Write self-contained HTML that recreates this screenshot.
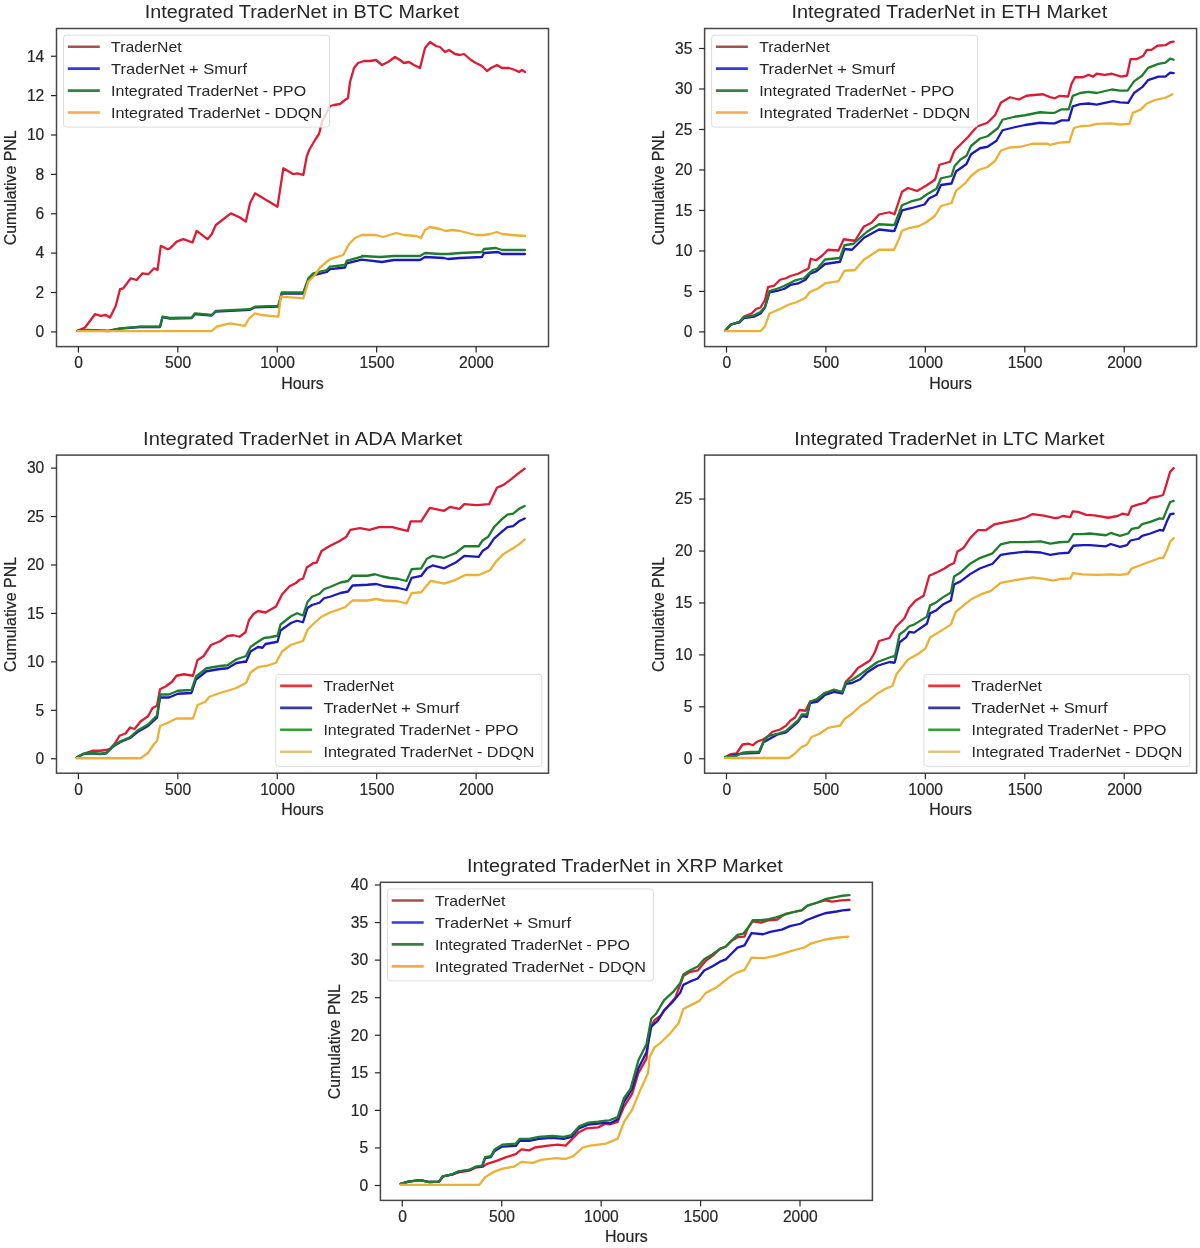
<!DOCTYPE html>
<html><head><meta charset="utf-8"><style>
html,body{margin:0;padding:0;background:#fff;}
svg{display:block;font-family:"Liberation Sans", sans-serif;filter:blur(0.5px);}
text{stroke:#262626;stroke-width:0.2px;}
text.ns{stroke:none;}
</style></head><body>
<svg width="1200" height="1248" viewBox="0 0 1200 1248">
<rect width="1200" height="1248" fill="#fff"/>
<g><path d="M77.5 330.8 L85 327.5 L95 314.2 L100.8 315.8 L105.8 315 L110 317.5 L115.8 305.8 L120 289.2 L123.3 288.3 L130.8 278.3 L136.7 280 L142.5 273.3 L148.3 274.2 L154.2 268.3 L157.5 270 L160.8 245.8 L167.5 249.2 L170 248.33 L176.67 241.67 L183.33 239.17 L192.5 242.5 L196.67 230.83 L207.5 239.17 L211.67 234.17 L215.83 225 L230.83 213.33 L240 217.5 L245.83 221.67 L250 203.33 L255 193.33 L265 199.17 L277.5 206.67 L283.33 168.33 L293.33 174.17 L297.5 173.33 L303.33 175 L306.67 156.67 L309.17 150 L315 140 L319 134 L322 122 L330 106 L334 105 L340 104 L345 100 L348 98 L350 82 L354 68 L358 63 L364 61 L370 61 L376 60 L382 65 L388 62 L395 57 L400 60 L404 63 L409 62 L414 65 L420 68 L425 48 L430 42 L436 46 L440 47 L445 52 L449 50 L455 54 L460 55 L464 54 L471 60 L476 63 L482 66 L487 71 L491 68 L497 65 L502 68 L509 68 L515 70 L519 72 L522 70 L525 72" fill="none" stroke="#dc1c34" stroke-width="2.3" stroke-linejoin="round" stroke-linecap="round"/>
<path d="M77.5 330.8 L86.7 330.2 L108.3 331 L120 328.6 L140 327 L160 327 L162.5 317.2 L170 318.5 L191.67 318 L195 314 L211.67 315.5 L215.83 311.5 L250 309.83 L255 307.33 L278.33 306.5 L281.67 293.67 L303.33 293.67 L308.33 280 L313.33 275.33 L326.67 272 L330 269.17 L345 267.5 L346.67 263.33 L361.67 259.67 L382 262 L394 260 L420 260 L425 257 L444 258 L448 259 L460 258 L482 257 L484 253 L498 252 L502 254 L525 254" fill="none" stroke="#1c18c0" stroke-width="2.3" stroke-linejoin="round" stroke-linecap="round"/>
<path d="M77.5 330.8 L86.7 330 L108.3 330.8 L120 328.3 L140 326.7 L160 326.7 L162.5 316.7 L170 318 L191.67 317.5 L195 313.33 L211.67 315 L215.83 310.83 L250 309.17 L255 306.67 L278.33 305.83 L281.67 292.5 L303.33 292.5 L308.33 278.33 L313.33 273.33 L326.67 270 L330 266.67 L345 265 L346.67 260.83 L361.67 256.67 L362 256 L380 257 L394 256 L420 256 L425 253 L440 254 L448 254 L460 253 L482 252 L484 249 L496 248 L502 250 L525 250" fill="none" stroke="#1e7e2c" stroke-width="2.3" stroke-linejoin="round" stroke-linecap="round"/>
<path d="M77.5 331.2 L211.7 331.2 L216.7 326.7 L230 323.3 L245 325.8 L249.2 318.3 L255 313.3 L261.7 315 L270 315.8 L278.33 316.67 L280.83 296.67 L303.33 298.33 L308.33 281.67 L315 275 L320 267.5 L330 259.17 L343.33 255 L349 244 L355 238 L362 235 L376 235 L383 237 L396 233 L404 235 L416 236 L421 238 L425 230 L430 227 L440 229 L446 231 L452 230 L460 231 L468 233 L476 235 L484 235 L490 234 L497 232 L502 234 L512 235 L525 236" fill="none" stroke="#ecb034" stroke-width="2.3" stroke-linejoin="round" stroke-linecap="round"/>
<rect x="56.5" y="28.5" width="492" height="318.1" fill="none" stroke="#474747" stroke-width="1.5"/>
<line x1="51" y1="331.9" x2="56.5" y2="331.9" stroke="#262626" stroke-width="1.2"/>
<text x="44.3" y="337.2" text-anchor="end" font-size="15.6" fill="#262626">0</text>
<line x1="51" y1="292.52" x2="56.5" y2="292.52" stroke="#262626" stroke-width="1.2"/>
<text x="44.3" y="297.82" text-anchor="end" font-size="15.6" fill="#262626">2</text>
<line x1="51" y1="253.14" x2="56.5" y2="253.14" stroke="#262626" stroke-width="1.2"/>
<text x="44.3" y="258.44" text-anchor="end" font-size="15.6" fill="#262626">4</text>
<line x1="51" y1="213.76" x2="56.5" y2="213.76" stroke="#262626" stroke-width="1.2"/>
<text x="44.3" y="219.06" text-anchor="end" font-size="15.6" fill="#262626">6</text>
<line x1="51" y1="174.38" x2="56.5" y2="174.38" stroke="#262626" stroke-width="1.2"/>
<text x="44.3" y="179.68" text-anchor="end" font-size="15.6" fill="#262626">8</text>
<line x1="51" y1="135" x2="56.5" y2="135" stroke="#262626" stroke-width="1.2"/>
<text x="44.3" y="140.3" text-anchor="end" font-size="15.6" fill="#262626">10</text>
<line x1="51" y1="95.62" x2="56.5" y2="95.62" stroke="#262626" stroke-width="1.2"/>
<text x="44.3" y="100.92" text-anchor="end" font-size="15.6" fill="#262626">12</text>
<line x1="51" y1="56.24" x2="56.5" y2="56.24" stroke="#262626" stroke-width="1.2"/>
<text x="44.3" y="61.54" text-anchor="end" font-size="15.6" fill="#262626">14</text>
<line x1="78.4" y1="346.6" x2="78.4" y2="352.6" stroke="#262626" stroke-width="1.2"/>
<text x="78.7" y="368.2" text-anchor="middle" font-size="15.6" fill="#262626">0</text>
<line x1="177.82" y1="346.6" x2="177.82" y2="352.6" stroke="#262626" stroke-width="1.2"/>
<text x="178.12" y="368.2" text-anchor="middle" font-size="15.6" fill="#262626">500</text>
<line x1="277.25" y1="346.6" x2="277.25" y2="352.6" stroke="#262626" stroke-width="1.2"/>
<text x="277.55" y="368.2" text-anchor="middle" font-size="15.6" fill="#262626">1000</text>
<line x1="376.67" y1="346.6" x2="376.67" y2="352.6" stroke="#262626" stroke-width="1.2"/>
<text x="376.97" y="368.2" text-anchor="middle" font-size="15.6" fill="#262626">1500</text>
<line x1="476.1" y1="346.6" x2="476.1" y2="352.6" stroke="#262626" stroke-width="1.2"/>
<text x="476.4" y="368.2" text-anchor="middle" font-size="15.6" fill="#262626">2000</text>
<text x="302.5" y="388.5" text-anchor="middle" font-size="16.2" fill="#262626" textLength="42.6" lengthAdjust="spacingAndGlyphs">Hours</text>
<text transform="translate(15.9 187.85) rotate(-90)" text-anchor="middle" font-size="15.6" fill="#262626" textLength="115" lengthAdjust="spacingAndGlyphs">Cumulative PNL</text>
<text class="ns" x="144.7" y="18.3" font-size="18" fill="#262626" textLength="314.2" lengthAdjust="spacingAndGlyphs">Integrated TraderNet in BTC Market</text>
<rect x="63.5" y="35.1" width="266" height="92" rx="3" fill="#fff" fill-opacity="0.8" stroke="#dcdcdc" stroke-width="1"/>
<line x1="67.8" y1="46.7" x2="99.8" y2="46.7" stroke="#a4504c" stroke-width="2.6"/>
<text x="111.1" y="52.1" font-size="15" class="ns" fill="#262626" textLength="70.5" lengthAdjust="spacingAndGlyphs">TraderNet</text>
<line x1="67.8" y1="68.65" x2="99.8" y2="68.65" stroke="#3838e0" stroke-width="2.6"/>
<text x="111.1" y="74.05" font-size="15" class="ns" fill="#262626" textLength="136" lengthAdjust="spacingAndGlyphs">TraderNet + Smurf</text>
<line x1="67.8" y1="90.6" x2="99.8" y2="90.6" stroke="#3d7d45" stroke-width="2.6"/>
<text x="111.1" y="96" font-size="15" class="ns" fill="#262626" textLength="195" lengthAdjust="spacingAndGlyphs">Integrated TraderNet - PPO</text>
<line x1="67.8" y1="112.55" x2="99.8" y2="112.55" stroke="#f4a850" stroke-width="2.6"/>
<text x="111.1" y="117.95" font-size="15" class="ns" fill="#262626" textLength="211" lengthAdjust="spacingAndGlyphs">Integrated TraderNet - DDQN</text></g>
<g><path d="M725.25 330.74 L730.5 324.74 L739.5 321.74 L744 316.49 L751.5 313.49 L756 308.99 L760.5 307.49 L765 299.99 L768 287.24 L774 285.74 L780 279.75 L786 278.25 L790.5 276 L798 273.75 L804 270.75 L808.5 268.5 L810.75 258.75 L816 260.25 L821.99 255.75 L827.99 249.75 L838.49 250.5 L843.74 239.25 L848.99 240 L854.99 240.75 L860.99 231 L863.99 226.5 L871.49 222.75 L878.99 214.5 L889.49 212.25 L894.5 214.24 L902 191.74 L908 187.99 L917 190.99 L926 185.74 L935 179.75 L939.5 164.75 L950 161.75 L954.5 150.5 L960.5 144.5 L968 137 L977 126.5 L987.5 122.75 L994.99 115.25 L1000.99 102.5 L1009.99 97.25 L1018.99 99.5 L1026.49 95.75 L1033.99 95 L1042.99 94.25 L1050 97.09 L1054.67 98.25 L1059.33 95.92 L1068.08 96.5 L1071.58 83.67 L1075.08 77.25 L1082.67 77.25 L1088.5 74.92 L1093.17 76.67 L1096.67 73.75 L1104.84 74.92 L1111.84 73.75 L1121.17 76.67 L1127 75.5 L1130.5 59.17 L1136.34 59.17 L1143.34 55.67 L1146.84 49.83 L1151.51 49.83 L1157.34 45.75 L1165.51 45.17 L1170.17 42.25 L1173.67 41.67" fill="none" stroke="#dc1c34" stroke-width="2.3" stroke-linejoin="round" stroke-linecap="round"/>
<path d="M725.25 330.74 L730.5 324.74 L739.5 322.49 L744 317.99 L754.5 316.49 L760.5 313.49 L765 307.49 L769.5 292.49 L777 290.99 L784.5 288.74 L790.5 284.99 L798 283.49 L805.5 279.75 L810 273.75 L816 271.5 L824.99 264 L839.99 261.75 L844.49 249 L851.99 249.75 L857.99 243.75 L863.99 237.75 L878.99 229.5 L892.49 231 L894.5 230.74 L902 210.49 L911 208.24 L924.5 204.49 L929 198.49 L936.5 194.74 L941 184.99 L951.5 183.49 L956 171.5 L966.5 164 L971 154.25 L980 148.25 L987.5 146.75 L996.49 140.75 L1002.49 130.25 L1014.49 127.25 L1024.99 125 L1039.99 122.75 L1050 123.34 L1054.67 123.34 L1061.67 120.42 L1068.67 120.42 L1072.75 106.42 L1080.33 104.09 L1088.5 103.5 L1096.67 104.67 L1113 101.17 L1120 102.34 L1128.17 102.92 L1134 93 L1142.17 87.17 L1148 80.17 L1158.51 76.67 L1165.51 76.67 L1170.17 72.59 L1173.67 73.17" fill="none" stroke="#1c18c0" stroke-width="2.3" stroke-linejoin="round" stroke-linecap="round"/>
<path d="M725.25 330.74 L730.5 324.74 L739.5 321.74 L744 317.24 L753 315.74 L760.5 311.99 L765 306.74 L769.5 290.99 L777 288.74 L783 286.49 L789 283.49 L795 280.49 L804 278.25 L808.5 273.75 L813 270 L817.5 268.5 L824.99 259.5 L839.99 258 L844.49 245.25 L853.49 243.75 L860.99 237 L866.99 231.75 L878.99 224.25 L892.49 225 L894.5 224.74 L902 205.24 L911 201.49 L920 199.24 L927.5 193.99 L936.5 188.74 L941 178.25 L951.5 176 L954.5 166.25 L960.5 159.5 L966.5 155.75 L971 146 L980 138.5 L987.5 136.25 L997.99 128 L1002.49 119.75 L1014.49 116.75 L1024.99 115.25 L1039.99 112.25 L1050 112.84 L1054.67 112.84 L1061.67 109.34 L1068.67 109.34 L1072.75 95.92 L1080.33 93 L1088.5 91.84 L1096.67 93 L1111.84 89.5 L1120 90.67 L1127.59 90.67 L1134 81.34 L1142.17 75.5 L1148 67.92 L1158.51 63.84 L1165.51 62.67 L1170.17 58.58 L1173.67 59.75" fill="none" stroke="#1e7e2c" stroke-width="2.3" stroke-linejoin="round" stroke-linecap="round"/>
<path d="M725.25 331.19 L760.5 331.19 L765 326.24 L769.5 313.49 L780 308.99 L789 304.49 L796.5 302.24 L805.5 297.74 L810 291.74 L817.5 288.74 L824.99 283.49 L838.49 281.24 L844.49 270.75 L854.99 270 L863.99 259.5 L869.99 255.75 L878.99 249.75 L893.99 249.75 L899 238.99 L902 230.74 L908 228.49 L918.5 226.24 L926 222.49 L935 215.74 L941 205.99 L951.5 202.99 L956 190.99 L965 183.49 L971 176 L978.5 170 L987.5 167 L994.99 161 L1000.99 150.5 L1009.99 147.5 L1020.49 146.75 L1032.49 143.75 L1047.49 143.75 L1050 144.92 L1059.33 142.59 L1069.25 142.01 L1073.92 128 L1080.33 126.25 L1089.67 125.67 L1096.67 123.92 L1111.84 123.34 L1120 124.5 L1129.34 123.92 L1132.84 112.84 L1141 109.34 L1146.84 103.5 L1155.01 100 L1165.51 97.67 L1172.51 94.17" fill="none" stroke="#ecb034" stroke-width="2.3" stroke-linejoin="round" stroke-linecap="round"/>
<rect x="704.6" y="28.5" width="492" height="318.1" fill="none" stroke="#474747" stroke-width="1.5"/>
<line x1="699.1" y1="331.9" x2="704.6" y2="331.9" stroke="#262626" stroke-width="1.2"/>
<text x="692.4" y="337.2" text-anchor="end" font-size="15.6" fill="#262626">0</text>
<line x1="699.1" y1="291.41" x2="704.6" y2="291.41" stroke="#262626" stroke-width="1.2"/>
<text x="692.4" y="296.71" text-anchor="end" font-size="15.6" fill="#262626">5</text>
<line x1="699.1" y1="250.93" x2="704.6" y2="250.93" stroke="#262626" stroke-width="1.2"/>
<text x="692.4" y="256.23" text-anchor="end" font-size="15.6" fill="#262626">10</text>
<line x1="699.1" y1="210.44" x2="704.6" y2="210.44" stroke="#262626" stroke-width="1.2"/>
<text x="692.4" y="215.75" text-anchor="end" font-size="15.6" fill="#262626">15</text>
<line x1="699.1" y1="169.96" x2="704.6" y2="169.96" stroke="#262626" stroke-width="1.2"/>
<text x="692.4" y="175.26" text-anchor="end" font-size="15.6" fill="#262626">20</text>
<line x1="699.1" y1="129.47" x2="704.6" y2="129.47" stroke="#262626" stroke-width="1.2"/>
<text x="692.4" y="134.78" text-anchor="end" font-size="15.6" fill="#262626">25</text>
<line x1="699.1" y1="88.99" x2="704.6" y2="88.99" stroke="#262626" stroke-width="1.2"/>
<text x="692.4" y="94.29" text-anchor="end" font-size="15.6" fill="#262626">30</text>
<line x1="699.1" y1="48.5" x2="704.6" y2="48.5" stroke="#262626" stroke-width="1.2"/>
<text x="692.4" y="53.8" text-anchor="end" font-size="15.6" fill="#262626">35</text>
<line x1="726.5" y1="346.6" x2="726.5" y2="352.6" stroke="#262626" stroke-width="1.2"/>
<text x="726.8" y="368.2" text-anchor="middle" font-size="15.6" fill="#262626">0</text>
<line x1="825.92" y1="346.6" x2="825.92" y2="352.6" stroke="#262626" stroke-width="1.2"/>
<text x="826.22" y="368.2" text-anchor="middle" font-size="15.6" fill="#262626">500</text>
<line x1="925.35" y1="346.6" x2="925.35" y2="352.6" stroke="#262626" stroke-width="1.2"/>
<text x="925.65" y="368.2" text-anchor="middle" font-size="15.6" fill="#262626">1000</text>
<line x1="1024.78" y1="346.6" x2="1024.78" y2="352.6" stroke="#262626" stroke-width="1.2"/>
<text x="1025.08" y="368.2" text-anchor="middle" font-size="15.6" fill="#262626">1500</text>
<line x1="1124.2" y1="346.6" x2="1124.2" y2="352.6" stroke="#262626" stroke-width="1.2"/>
<text x="1124.5" y="368.2" text-anchor="middle" font-size="15.6" fill="#262626">2000</text>
<text x="950.6" y="388.5" text-anchor="middle" font-size="16.2" fill="#262626" textLength="42.6" lengthAdjust="spacingAndGlyphs">Hours</text>
<text transform="translate(664 187.85) rotate(-90)" text-anchor="middle" font-size="15.6" fill="#262626" textLength="115" lengthAdjust="spacingAndGlyphs">Cumulative PNL</text>
<text class="ns" x="791.4" y="18.3" font-size="18" fill="#262626" textLength="315.8" lengthAdjust="spacingAndGlyphs">Integrated TraderNet in ETH Market</text>
<rect x="711.6" y="35.1" width="266" height="92" rx="3" fill="#fff" fill-opacity="0.8" stroke="#dcdcdc" stroke-width="1"/>
<line x1="715.9" y1="46.7" x2="747.9" y2="46.7" stroke="#a4504c" stroke-width="2.6"/>
<text x="759.2" y="52.1" font-size="15" class="ns" fill="#262626" textLength="70.5" lengthAdjust="spacingAndGlyphs">TraderNet</text>
<line x1="715.9" y1="68.65" x2="747.9" y2="68.65" stroke="#3838e0" stroke-width="2.6"/>
<text x="759.2" y="74.05" font-size="15" class="ns" fill="#262626" textLength="136" lengthAdjust="spacingAndGlyphs">TraderNet + Smurf</text>
<line x1="715.9" y1="90.6" x2="747.9" y2="90.6" stroke="#3d7d45" stroke-width="2.6"/>
<text x="759.2" y="96" font-size="15" class="ns" fill="#262626" textLength="195" lengthAdjust="spacingAndGlyphs">Integrated TraderNet - PPO</text>
<line x1="715.9" y1="112.55" x2="747.9" y2="112.55" stroke="#f4a850" stroke-width="2.6"/>
<text x="759.2" y="117.95" font-size="15" class="ns" fill="#262626" textLength="211" lengthAdjust="spacingAndGlyphs">Integrated TraderNet - DDQN</text></g>
<g><path d="M76.75 757.49 L83.5 753.74 L92.5 750.74 L100 750.74 L106 749.99 L110.5 748.49 L115 743.24 L119.5 735.74 L125.5 733.49 L130 727.49 L134.5 728.99 L140.5 721.49 L148 716.24 L152.5 707.99 L157 705.74 L160 689.25 L166 686.25 L171.99 681.75 L176.49 675.75 L183.99 674.25 L192.99 675.75 L197.49 660 L203.49 656.25 L210.99 645 L219.99 641.25 L227.49 636 L233.49 635.25 L239.49 636.75 L245.49 632.25 L249 620 L253.5 614 L258 611 L265.5 612.5 L276 606.5 L282 594.5 L289.5 586.25 L295.5 583.25 L300 579.5 L303 578.75 L306.75 567.5 L313.5 563 L316.71 562.55 L321.5 551.05 L329.17 546.26 L338.75 541.46 L346.42 536.67 L350.25 529.96 L359.84 528.05 L369.42 529.96 L379.01 527.09 L392.42 527.09 L400.09 529.01 L407.76 530.92 L410.63 521.34 L421.18 521.34 L429.8 507.92 L444.18 510.8 L449.93 506.96 L459.51 508.88 L464.3 504.09 L476.76 505.05 L489.22 504.09 L496.89 487.79 L503.6 484.92 L511.27 479.17 L517.02 474.38 L524.68 468.63" fill="none" stroke="#dc1c34" stroke-width="2.3" stroke-linejoin="round" stroke-linecap="round"/>
<path d="M76.75 757.49 L83.5 754.04 L92.5 753.29 L100 754.04 L106 753.29 L113.5 746.24 L121 741.74 L130 737.99 L137.5 731.99 L148 725.99 L157 717.74 L160 697.5 L169 697.5 L177.99 693.75 L191.49 693 L195.99 679.5 L206.49 671.25 L219.99 669 L227.49 668.25 L236.49 663 L245.49 661.5 L246 661.99 L250.5 651.5 L258 647 L262.5 647.75 L265.5 644 L277.5 641.75 L280.5 630.5 L291 623 L297 620.75 L303 622.25 L307.5 608 L312 605 L319.5 602.75 L324 598.25 L330 596.75 L340.49 593 L347.99 591.5 L352.49 585.5 L367.49 584.75 L376.49 584 L383.99 586.25 L397.49 587.75 L406.49 590 L411.59 577.88 L421.18 575.97 L426.93 568.3 L432.68 565.42 L444.18 568.3 L455.68 562.55 L464.3 555.84 L478.68 556.8 L482.51 551.05 L488.26 547.21 L494.01 538.59 L501.68 531.88 L507.43 527.09 L513.18 526.13 L518.93 521.34 L524.68 518.46" fill="none" stroke="#1c18c0" stroke-width="2.3" stroke-linejoin="round" stroke-linecap="round"/>
<path d="M76.75 757.49 L83.5 753.74 L92.5 752.99 L100 753.74 L106 752.99 L113.5 745.49 L121 740.99 L130 737.24 L137.5 730.49 L148 724.49 L157 715.49 L160 694.5 L169 694.5 L177.99 690.75 L191.49 690 L195.99 676.5 L206.49 668.25 L219.99 666 L227.49 665.25 L236.49 659.25 L245.49 656.25 L246 656 L250.5 647 L258 641.75 L264 638 L270 637.25 L277.5 635.75 L280.5 624.5 L291 616.25 L297 613.25 L303 615.5 L307.5 602 L312 596.75 L319.5 593.75 L324 589.25 L330 587 L340.49 582.5 L347.99 581 L352.49 575.75 L367.49 575.75 L374.99 574.25 L382.49 576.5 L389.99 578 L397.49 578.75 L406.49 581 L411.59 569.26 L421.18 568.3 L426.93 558.72 L432.68 555.84 L444.18 557.76 L455.68 552.97 L464.3 546.26 L478.68 546.26 L482.51 540.51 L488.26 536.67 L494.01 527.09 L501.68 519.42 L507.43 514.63 L513.18 513.67 L518.93 508.88 L524.68 506" fill="none" stroke="#1e7e2c" stroke-width="2.3" stroke-linejoin="round" stroke-linecap="round"/>
<path d="M76.75 758.24 L140.5 758.24 L148 752.99 L154 743.99 L157 740.99 L160 725.99 L167.5 722.99 L176.49 718.49 L192.99 718.49 L197.49 704.99 L204.99 701.99 L209.49 696.75 L219.99 693 L234.99 688.5 L245.49 683.25 L246 682.99 L250.5 672.49 L258 667.24 L267 665.74 L276 662.74 L282 651.5 L291 644.75 L303 641 L307.5 629.75 L312 625.25 L321 617 L330 612.5 L344.99 607.25 L352.49 600.5 L367.49 600.5 L376.49 599 L383.99 600.5 L397.49 601.25 L406.49 603.5 L411.59 593.22 L421.18 592.26 L430.76 580.76 L444.18 583.63 L455.68 579.8 L465.26 575.01 L478.68 575.01 L490.18 570.22 L495.93 561.59 L503.6 553.92 L513.18 548.17 L518.93 544.34 L524.68 539.55" fill="none" stroke="#ecb034" stroke-width="2.3" stroke-linejoin="round" stroke-linecap="round"/>
<rect x="56.5" y="455.1" width="492" height="318.1" fill="none" stroke="#474747" stroke-width="1.5"/>
<line x1="51" y1="758.75" x2="56.5" y2="758.75" stroke="#262626" stroke-width="1.2"/>
<text x="44.3" y="764.05" text-anchor="end" font-size="15.6" fill="#262626">0</text>
<line x1="51" y1="710.31" x2="56.5" y2="710.31" stroke="#262626" stroke-width="1.2"/>
<text x="44.3" y="715.61" text-anchor="end" font-size="15.6" fill="#262626">5</text>
<line x1="51" y1="661.87" x2="56.5" y2="661.87" stroke="#262626" stroke-width="1.2"/>
<text x="44.3" y="667.17" text-anchor="end" font-size="15.6" fill="#262626">10</text>
<line x1="51" y1="613.43" x2="56.5" y2="613.43" stroke="#262626" stroke-width="1.2"/>
<text x="44.3" y="618.73" text-anchor="end" font-size="15.6" fill="#262626">15</text>
<line x1="51" y1="564.99" x2="56.5" y2="564.99" stroke="#262626" stroke-width="1.2"/>
<text x="44.3" y="570.29" text-anchor="end" font-size="15.6" fill="#262626">20</text>
<line x1="51" y1="516.55" x2="56.5" y2="516.55" stroke="#262626" stroke-width="1.2"/>
<text x="44.3" y="521.85" text-anchor="end" font-size="15.6" fill="#262626">25</text>
<line x1="51" y1="468.11" x2="56.5" y2="468.11" stroke="#262626" stroke-width="1.2"/>
<text x="44.3" y="473.41" text-anchor="end" font-size="15.6" fill="#262626">30</text>
<line x1="78.4" y1="773.2" x2="78.4" y2="779.2" stroke="#262626" stroke-width="1.2"/>
<text x="78.7" y="794.8" text-anchor="middle" font-size="15.6" fill="#262626">0</text>
<line x1="177.82" y1="773.2" x2="177.82" y2="779.2" stroke="#262626" stroke-width="1.2"/>
<text x="178.12" y="794.8" text-anchor="middle" font-size="15.6" fill="#262626">500</text>
<line x1="277.25" y1="773.2" x2="277.25" y2="779.2" stroke="#262626" stroke-width="1.2"/>
<text x="277.55" y="794.8" text-anchor="middle" font-size="15.6" fill="#262626">1000</text>
<line x1="376.67" y1="773.2" x2="376.67" y2="779.2" stroke="#262626" stroke-width="1.2"/>
<text x="376.97" y="794.8" text-anchor="middle" font-size="15.6" fill="#262626">1500</text>
<line x1="476.1" y1="773.2" x2="476.1" y2="779.2" stroke="#262626" stroke-width="1.2"/>
<text x="476.4" y="794.8" text-anchor="middle" font-size="15.6" fill="#262626">2000</text>
<text x="302.5" y="815.1" text-anchor="middle" font-size="16.2" fill="#262626" textLength="42.6" lengthAdjust="spacingAndGlyphs">Hours</text>
<text transform="translate(15.9 614.45) rotate(-90)" text-anchor="middle" font-size="15.6" fill="#262626" textLength="115" lengthAdjust="spacingAndGlyphs">Cumulative PNL</text>
<text class="ns" x="143.1" y="444.9" font-size="18" fill="#262626" textLength="319.1" lengthAdjust="spacingAndGlyphs">Integrated TraderNet in ADA Market</text>
<rect x="275.8" y="674.3" width="266" height="92" rx="3" fill="#fff" fill-opacity="0.8" stroke="#dcdcdc" stroke-width="1"/>
<line x1="280.1" y1="685.9" x2="312.1" y2="685.9" stroke="#ec3434" stroke-width="2.6"/>
<text x="323.4" y="691.3" font-size="15" class="ns" fill="#262626" textLength="70.5" lengthAdjust="spacingAndGlyphs">TraderNet</text>
<line x1="280.1" y1="707.85" x2="312.1" y2="707.85" stroke="#3a3aa0" stroke-width="2.6"/>
<text x="323.4" y="713.25" font-size="15" class="ns" fill="#262626" textLength="136" lengthAdjust="spacingAndGlyphs">TraderNet + Smurf</text>
<line x1="280.1" y1="729.8" x2="312.1" y2="729.8" stroke="#30a030" stroke-width="2.6"/>
<text x="323.4" y="735.2" font-size="15" class="ns" fill="#262626" textLength="195" lengthAdjust="spacingAndGlyphs">Integrated TraderNet - PPO</text>
<line x1="280.1" y1="751.75" x2="312.1" y2="751.75" stroke="#e4c47a" stroke-width="2.6"/>
<text x="323.4" y="757.15" font-size="15" class="ns" fill="#262626" textLength="211" lengthAdjust="spacingAndGlyphs">Integrated TraderNet - DDQN</text></g>
<g><path d="M725.25 757.24 L730.5 754.24 L736.5 753.49 L742.5 744.49 L748.5 743.74 L753 745.24 L757.5 741.49 L763.5 739.24 L768 736.24 L772.5 731.74 L780 729.49 L786 725.74 L790.5 720.49 L795 717.49 L799.5 709.99 L805.5 710.74 L810 701.74 L816 700.24 L824.99 693.49 L833.99 689.75 L842.24 691.99 L845.99 681.5 L851.99 675.5 L857.99 668 L863.99 664.25 L869.99 660.5 L874.49 653 L878.99 641 L889.49 638 L895.49 627.5 L896.41 626.22 L904.42 618.21 L909.23 607.79 L915.64 600.58 L923.65 595.77 L929.26 575.74 L938.08 571.73 L944.49 568.53 L949.29 565.32 L954.1 562.92 L957.31 551.7 L963.72 547.69 L970.13 538.08 L978.14 530.06 L986.15 530.06 L994.17 524.46 L1005.38 522.05 L1018.21 519.65 L1026.22 517.24 L1032.63 514.04 L1043.85 515.64 L1055.06 518.04 L1058.17 517.75 L1062.83 516 L1070.42 517.17 L1072.75 511.34 L1078 511.92 L1086.17 514.84 L1094.34 515.42 L1108.34 517.75 L1117.67 516 L1122.34 513.67 L1128.17 514.84 L1131.67 506.67 L1138.67 504.34 L1145.67 502.59 L1150.34 497.92 L1157.34 496.75 L1163.17 495 L1166.67 483.33 L1170.17 471.67 L1173.67 468.17" fill="none" stroke="#dc1c34" stroke-width="2.3" stroke-linejoin="round" stroke-linecap="round"/>
<path d="M725.25 757.24 L742.5 753.49 L759 752.74 L763.5 742.24 L777 734.74 L786 732.49 L792 727.24 L798 721.99 L801.75 715.99 L807 716.74 L810 703.24 L817.5 701.74 L824.99 694.99 L833.99 691.99 L842.24 693.49 L845.99 683.75 L851.99 683 L860.24 679.25 L866.99 672.5 L877.49 665.75 L889.49 662 L893.99 662.75 L894.81 662.28 L899.62 642.24 L906.03 637.44 L909.23 631.83 L914.04 632.63 L926.86 623.81 L930.06 613.4 L936.47 610.19 L942.88 604.58 L950.9 600.58 L954.1 584.55 L960.51 581.35 L970.13 574.13 L979.74 568.53 L992.56 563.72 L1000.58 554.9 L1010.19 553.3 L1026.22 551.7 L1040.64 552.5 L1050.26 554.9 L1059.33 553.34 L1068.67 552.75 L1073.33 545.75 L1082.67 545.17 L1089.67 545.17 L1106 546.34 L1110.67 544 L1120 546.92 L1127 545.17 L1130.5 540.5 L1138.67 538.75 L1142.17 535.84 L1150.34 533.5 L1159.67 530 L1163.17 530.59 L1166.67 521.84 L1170.17 514.25 L1173.67 513.67" fill="none" stroke="#1c18c0" stroke-width="2.3" stroke-linejoin="round" stroke-linecap="round"/>
<path d="M725.25 757.24 L736.5 755.74 L742.5 752.74 L750 751.99 L759 751.99 L763.5 741.49 L768 736.24 L777 733.99 L786 730.99 L792 725.74 L798 720.49 L801.75 714.49 L807 714.49 L810 701.74 L817.5 698.74 L824.99 692.74 L833.99 689.75 L842.24 691.99 L845.99 682.25 L851.99 680 L860.99 674 L866.99 669.5 L877.49 662 L889.49 657.5 L893.99 656 L894.81 657.47 L899.62 634.23 L904.42 631.03 L909.23 626.22 L914.04 624.62 L926.86 616.6 L930.06 605.38 L936.47 602.18 L942.88 597.37 L950.9 592.56 L954.1 576.54 L960.51 572.53 L970.13 563.72 L979.74 558.11 L992.56 553.3 L1000.58 544.49 L1010.19 542.08 L1026.22 542.08 L1040.64 541.28 L1050.26 543.69 L1059.33 542.25 L1068.67 541.67 L1073.33 534.09 L1082.67 534.09 L1089.67 533.5 L1106 535.25 L1110.67 532.92 L1120 535.84 L1128.17 533.5 L1131.67 528.84 L1138.67 527.67 L1142.17 524.17 L1150.34 521.84 L1159.67 518.34 L1163.17 518.92 L1166.67 510.17 L1170.17 502 L1173.67 500.84" fill="none" stroke="#1e7e2c" stroke-width="2.3" stroke-linejoin="round" stroke-linecap="round"/>
<path d="M725.25 757.99 L789 757.99 L795 753.49 L801 747.49 L807 744.49 L811.5 736.99 L819 733.99 L827.99 727.99 L839.99 725.74 L844.49 718.99 L851.99 713.74 L860.99 705.49 L868.49 700.99 L877.49 693.49 L884.99 689 L892.49 686 L896.41 674.29 L907.63 659.87 L918.85 653.46 L925.26 648.65 L930.06 637.44 L938.08 632.63 L950.9 624.62 L955.71 611.79 L963.72 605.38 L971.73 598.97 L981.35 594.17 L990.96 590.96 L1000.58 582.95 L1018.21 579.74 L1032.63 577.34 L1043.85 578.94 L1053.46 580.54 L1059.33 579.01 L1070.42 578.42 L1072.75 573.17 L1082.67 574.34 L1096.67 574.92 L1110.67 574.34 L1120 574.92 L1128.17 573.76 L1131.67 568.51 L1141 565.01 L1150.34 561.51 L1159.67 558 L1163.17 558 L1166.67 551 L1170.17 541.67 L1173.67 538.17" fill="none" stroke="#ecb034" stroke-width="2.3" stroke-linejoin="round" stroke-linecap="round"/>
<rect x="704.6" y="455.1" width="492" height="318.1" fill="none" stroke="#474747" stroke-width="1.5"/>
<line x1="699.1" y1="758.75" x2="704.6" y2="758.75" stroke="#262626" stroke-width="1.2"/>
<text x="692.4" y="764.05" text-anchor="end" font-size="15.6" fill="#262626">0</text>
<line x1="699.1" y1="706.82" x2="704.6" y2="706.82" stroke="#262626" stroke-width="1.2"/>
<text x="692.4" y="712.12" text-anchor="end" font-size="15.6" fill="#262626">5</text>
<line x1="699.1" y1="654.89" x2="704.6" y2="654.89" stroke="#262626" stroke-width="1.2"/>
<text x="692.4" y="660.19" text-anchor="end" font-size="15.6" fill="#262626">10</text>
<line x1="699.1" y1="602.96" x2="704.6" y2="602.96" stroke="#262626" stroke-width="1.2"/>
<text x="692.4" y="608.26" text-anchor="end" font-size="15.6" fill="#262626">15</text>
<line x1="699.1" y1="551.03" x2="704.6" y2="551.03" stroke="#262626" stroke-width="1.2"/>
<text x="692.4" y="556.33" text-anchor="end" font-size="15.6" fill="#262626">20</text>
<line x1="699.1" y1="499.1" x2="704.6" y2="499.1" stroke="#262626" stroke-width="1.2"/>
<text x="692.4" y="504.4" text-anchor="end" font-size="15.6" fill="#262626">25</text>
<line x1="726.5" y1="773.2" x2="726.5" y2="779.2" stroke="#262626" stroke-width="1.2"/>
<text x="726.8" y="794.8" text-anchor="middle" font-size="15.6" fill="#262626">0</text>
<line x1="825.92" y1="773.2" x2="825.92" y2="779.2" stroke="#262626" stroke-width="1.2"/>
<text x="826.22" y="794.8" text-anchor="middle" font-size="15.6" fill="#262626">500</text>
<line x1="925.35" y1="773.2" x2="925.35" y2="779.2" stroke="#262626" stroke-width="1.2"/>
<text x="925.65" y="794.8" text-anchor="middle" font-size="15.6" fill="#262626">1000</text>
<line x1="1024.78" y1="773.2" x2="1024.78" y2="779.2" stroke="#262626" stroke-width="1.2"/>
<text x="1025.08" y="794.8" text-anchor="middle" font-size="15.6" fill="#262626">1500</text>
<line x1="1124.2" y1="773.2" x2="1124.2" y2="779.2" stroke="#262626" stroke-width="1.2"/>
<text x="1124.5" y="794.8" text-anchor="middle" font-size="15.6" fill="#262626">2000</text>
<text x="950.6" y="815.1" text-anchor="middle" font-size="16.2" fill="#262626" textLength="42.6" lengthAdjust="spacingAndGlyphs">Hours</text>
<text transform="translate(664 614.45) rotate(-90)" text-anchor="middle" font-size="15.6" fill="#262626" textLength="115" lengthAdjust="spacingAndGlyphs">Cumulative PNL</text>
<text class="ns" x="794.3" y="444.9" font-size="18" fill="#262626" textLength="310.1" lengthAdjust="spacingAndGlyphs">Integrated TraderNet in LTC Market</text>
<rect x="923.9" y="674.3" width="266" height="92" rx="3" fill="#fff" fill-opacity="0.8" stroke="#dcdcdc" stroke-width="1"/>
<line x1="928.2" y1="685.9" x2="960.2" y2="685.9" stroke="#ec3434" stroke-width="2.6"/>
<text x="971.5" y="691.3" font-size="15" class="ns" fill="#262626" textLength="70.5" lengthAdjust="spacingAndGlyphs">TraderNet</text>
<line x1="928.2" y1="707.85" x2="960.2" y2="707.85" stroke="#3a3aa0" stroke-width="2.6"/>
<text x="971.5" y="713.25" font-size="15" class="ns" fill="#262626" textLength="136" lengthAdjust="spacingAndGlyphs">TraderNet + Smurf</text>
<line x1="928.2" y1="729.8" x2="960.2" y2="729.8" stroke="#30a030" stroke-width="2.6"/>
<text x="971.5" y="735.2" font-size="15" class="ns" fill="#262626" textLength="195" lengthAdjust="spacingAndGlyphs">Integrated TraderNet - PPO</text>
<line x1="928.2" y1="751.75" x2="960.2" y2="751.75" stroke="#e4c47a" stroke-width="2.6"/>
<text x="971.5" y="757.15" font-size="15" class="ns" fill="#262626" textLength="211" lengthAdjust="spacingAndGlyphs">Integrated TraderNet - DDQN</text></g>
<g><path d="M400.75 1183.92 L408.42 1181.62 L419.92 1180.09 L429.5 1182.01 L439.09 1181.62 L442.92 1176.26 L452.5 1174.34 L458.25 1172.42 L469.76 1170.51 L475.51 1167.63 L483.17 1166.67 L487.01 1163.8 L496.59 1160.92 L506.18 1157.09 L515.76 1154.21 L521.51 1149.42 L529.18 1150.38 L534.93 1147.5 L548.34 1145.59 L557.93 1144.63 L565.6 1145.59 L571.35 1139.84 L579.01 1132.17 L586.68 1128.34 L598.18 1127.38 L605.85 1123.54 L609.62 1124.29 L617.63 1121.89 L624.04 1106.67 L632.05 1093.85 L638.46 1073.01 L646.47 1058.59 L649.68 1029.74 L654.49 1020.13 L660.9 1015.32 L664.1 1010.51 L675.32 997.69 L680.13 984.87 L683.33 976.06 L689.74 972.05 L697.76 970.45 L705.77 960.83 L712.18 956.03 L720 948.84 L725.83 946.5 L731.67 940.67 L737.5 937.17 L744.5 936.59 L748 927.84 L752.67 921.42 L760.84 922.59 L769 920.25 L777.17 919.67 L785.34 913.84 L795.84 911.5 L801.67 910.33 L807.5 905.67 L816.84 902.75 L825.01 900.42 L832.01 901.58 L841.34 900.42 L849.51 899.83" fill="none" stroke="#dc1c34" stroke-width="2.3" stroke-linejoin="round" stroke-linecap="round"/>
<path d="M400.75 1183.92 L408.42 1181.62 L419.92 1180.09 L429.5 1182.01 L439.09 1181.62 L442.92 1176.26 L452.5 1174.34 L458.25 1171.85 L469.76 1169.93 L475.51 1167.06 L482.21 1166.29 L485.09 1158.05 L490.84 1157.09 L494.67 1150.95 L502.34 1146.55 L515.76 1145.97 L519.59 1140.8 L529.18 1140.8 L538.76 1138.88 L552.18 1137.92 L563.68 1138.88 L571.35 1136.96 L579.01 1128.34 L588.6 1124.5 L598.18 1123.54 L605.85 1122.59 L609.62 1123.49 L617.63 1119.49 L624.04 1101.86 L632.05 1089.04 L638.46 1068.21 L646.47 1052.18 L651.28 1026.54 L657.69 1020.93 L664.1 1010.51 L672.12 1002.5 L680.13 992.88 L683.33 984.87 L689.74 981.67 L697.76 978.46 L704.17 970.45 L712.18 966.44 L720 961.67 L725.83 959.34 L731.67 953.5 L737.5 947.67 L744.5 945.34 L751.5 933.09 L763.17 934.25 L770.17 931.92 L781.84 929.59 L790 926.09 L800.5 923.75 L806.34 920.25 L816.84 916.17 L825.01 913.25 L836.67 911.5 L842.51 910.33 L849.51 909.75" fill="none" stroke="#1c18c0" stroke-width="2.3" stroke-linejoin="round" stroke-linecap="round"/>
<path d="M400.75 1183.92 L408.42 1181.62 L419.92 1180.09 L429.5 1182.01 L439.09 1181.62 L442.92 1176.26 L452.5 1174.34 L458.25 1171.46 L469.76 1169.55 L475.51 1166.67 L482.21 1165.71 L485.09 1157.09 L490.84 1156.13 L494.67 1149.42 L502.34 1144.63 L515.76 1143.67 L519.59 1138.88 L529.18 1138.88 L538.76 1136.96 L552.18 1136 L563.68 1136.96 L571.35 1135.05 L579.01 1126.42 L588.6 1122.59 L598.18 1121.63 L605.85 1120.67 L609.62 1120.29 L617.63 1117.08 L624.04 1097.85 L630.45 1089.04 L638.46 1060.19 L646.47 1044.17 L651.28 1018.53 L656.09 1013.72 L664.1 1000.1 L673.72 991.28 L680.13 983.27 L683.33 974.46 L689.74 970.45 L697.76 966.44 L704.17 959.23 L712.18 954.42 L720 948.84 L725.83 946.5 L731.67 940.67 L737.5 934.84 L743.33 933.67 L748 927.84 L752.67 920.25 L760.84 920.25 L769 919.09 L776 917.34 L785.34 914.42 L795.84 911.5 L801.67 910.33 L807.5 905.67 L816.84 902.75 L825.01 899.25 L836.67 896.92 L842.51 895.75 L849.51 895.17" fill="none" stroke="#1e7e2c" stroke-width="2.3" stroke-linejoin="round" stroke-linecap="round"/>
<path d="M400.75 1184.88 L479.34 1184.88 L485.09 1177.21 L492.76 1172.42 L502.34 1168.59 L513.84 1166.67 L521.51 1161.88 L533.01 1162.84 L540.68 1159.96 L556.01 1158.05 L565.6 1159.01 L573.26 1156.13 L582.85 1147.5 L590.51 1145.59 L605.85 1143.67 L617.63 1138.72 L624.04 1121.89 L632.05 1109.87 L640.06 1090.64 L648.08 1073.01 L649.68 1056.99 L654.49 1047.37 L660.9 1042.56 L670.51 1032.95 L678.53 1023.33 L683.33 1008.91 L691.35 1004.9 L699.36 1000.9 L705.77 992.88 L715.38 988.08 L721.79 983.27 L729.81 976.86 L736.22 972.85 L744.5 969.84 L748 964 L751.5 957.59 L764.34 958.17 L774.84 955.84 L785.34 952.92 L794.67 950 L804 947.67 L811 943.59 L825.01 939.5 L836.67 937.75 L848.34 936.59" fill="none" stroke="#ecb034" stroke-width="2.3" stroke-linejoin="round" stroke-linecap="round"/>
<rect x="380.4" y="882.3" width="492" height="318.1" fill="none" stroke="#474747" stroke-width="1.5"/>
<line x1="374.9" y1="1185.5" x2="380.4" y2="1185.5" stroke="#262626" stroke-width="1.2"/>
<text x="368.2" y="1190.8" text-anchor="end" font-size="15.6" fill="#262626">0</text>
<line x1="374.9" y1="1147.94" x2="380.4" y2="1147.94" stroke="#262626" stroke-width="1.2"/>
<text x="368.2" y="1153.24" text-anchor="end" font-size="15.6" fill="#262626">5</text>
<line x1="374.9" y1="1110.38" x2="380.4" y2="1110.38" stroke="#262626" stroke-width="1.2"/>
<text x="368.2" y="1115.67" text-anchor="end" font-size="15.6" fill="#262626">10</text>
<line x1="374.9" y1="1072.81" x2="380.4" y2="1072.81" stroke="#262626" stroke-width="1.2"/>
<text x="368.2" y="1078.11" text-anchor="end" font-size="15.6" fill="#262626">15</text>
<line x1="374.9" y1="1035.25" x2="380.4" y2="1035.25" stroke="#262626" stroke-width="1.2"/>
<text x="368.2" y="1040.55" text-anchor="end" font-size="15.6" fill="#262626">20</text>
<line x1="374.9" y1="997.69" x2="380.4" y2="997.69" stroke="#262626" stroke-width="1.2"/>
<text x="368.2" y="1002.99" text-anchor="end" font-size="15.6" fill="#262626">25</text>
<line x1="374.9" y1="960.12" x2="380.4" y2="960.12" stroke="#262626" stroke-width="1.2"/>
<text x="368.2" y="965.42" text-anchor="end" font-size="15.6" fill="#262626">30</text>
<line x1="374.9" y1="922.56" x2="380.4" y2="922.56" stroke="#262626" stroke-width="1.2"/>
<text x="368.2" y="927.86" text-anchor="end" font-size="15.6" fill="#262626">35</text>
<line x1="374.9" y1="885" x2="380.4" y2="885" stroke="#262626" stroke-width="1.2"/>
<text x="368.2" y="890.3" text-anchor="end" font-size="15.6" fill="#262626">40</text>
<line x1="402.3" y1="1200.4" x2="402.3" y2="1206.4" stroke="#262626" stroke-width="1.2"/>
<text x="402.6" y="1222" text-anchor="middle" font-size="15.6" fill="#262626">0</text>
<line x1="501.72" y1="1200.4" x2="501.72" y2="1206.4" stroke="#262626" stroke-width="1.2"/>
<text x="502.02" y="1222" text-anchor="middle" font-size="15.6" fill="#262626">500</text>
<line x1="601.15" y1="1200.4" x2="601.15" y2="1206.4" stroke="#262626" stroke-width="1.2"/>
<text x="601.45" y="1222" text-anchor="middle" font-size="15.6" fill="#262626">1000</text>
<line x1="700.57" y1="1200.4" x2="700.57" y2="1206.4" stroke="#262626" stroke-width="1.2"/>
<text x="700.87" y="1222" text-anchor="middle" font-size="15.6" fill="#262626">1500</text>
<line x1="800" y1="1200.4" x2="800" y2="1206.4" stroke="#262626" stroke-width="1.2"/>
<text x="800.3" y="1222" text-anchor="middle" font-size="15.6" fill="#262626">2000</text>
<text x="626.4" y="1242.3" text-anchor="middle" font-size="16.2" fill="#262626" textLength="42.6" lengthAdjust="spacingAndGlyphs">Hours</text>
<text transform="translate(339.8 1041.65) rotate(-90)" text-anchor="middle" font-size="15.6" fill="#262626" textLength="115" lengthAdjust="spacingAndGlyphs">Cumulative PNL</text>
<text class="ns" x="466.9" y="872.1" font-size="18" fill="#262626" textLength="316" lengthAdjust="spacingAndGlyphs">Integrated TraderNet in XRP Market</text>
<rect x="387.4" y="888.9" width="266" height="92" rx="3" fill="#fff" fill-opacity="0.8" stroke="#dcdcdc" stroke-width="1"/>
<line x1="391.7" y1="900.5" x2="423.7" y2="900.5" stroke="#a4504c" stroke-width="2.6"/>
<text x="435" y="905.9" font-size="15" class="ns" fill="#262626" textLength="70.5" lengthAdjust="spacingAndGlyphs">TraderNet</text>
<line x1="391.7" y1="922.45" x2="423.7" y2="922.45" stroke="#3838e0" stroke-width="2.6"/>
<text x="435" y="927.85" font-size="15" class="ns" fill="#262626" textLength="136" lengthAdjust="spacingAndGlyphs">TraderNet + Smurf</text>
<line x1="391.7" y1="944.4" x2="423.7" y2="944.4" stroke="#3d7d45" stroke-width="2.6"/>
<text x="435" y="949.8" font-size="15" class="ns" fill="#262626" textLength="195" lengthAdjust="spacingAndGlyphs">Integrated TraderNet - PPO</text>
<line x1="391.7" y1="966.35" x2="423.7" y2="966.35" stroke="#f4a850" stroke-width="2.6"/>
<text x="435" y="971.75" font-size="15" class="ns" fill="#262626" textLength="211" lengthAdjust="spacingAndGlyphs">Integrated TraderNet - DDQN</text></g>
</svg></body></html>
